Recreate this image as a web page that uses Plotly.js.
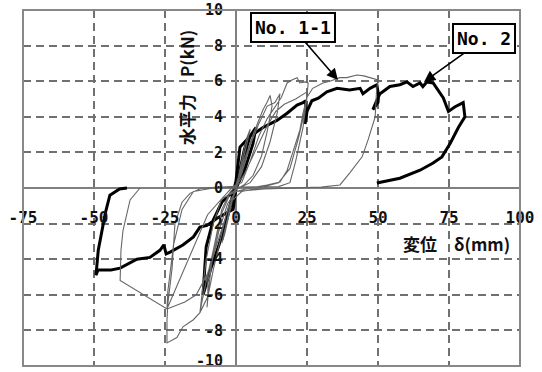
<!DOCTYPE html>
<html><head><meta charset="utf-8">
<script src="https://cdn.plot.ly/plotly-3.0.1.min.js"></script>
<style>html,body{margin:0;padding:0;background:#fff}#chart{width:542px;height:372px}</style>
</head><body><div id="chart"></div>
<script>
// No.1-1 (thin grey) hysteresis loops
const no11_x = [0,1,2,3,4,5,4,2,0,-1,-2,-3,-4,-5,-4,-2,0,
  3,6,8,9.5,10.9,12,12.7,11,9,6,3,0,-3,-6,-8,-9.9,-10.2,-9.5,-8,-5,-2,0,
  2,5,8,11,13.7,15.5,14.5,12,9,5,1,-2,-5,-8,-10,-12,-12.7,-12,-10.5,-8,-5,-1,
  2,5,8,11,14,16,18,19.7,21.5,22.5,24.3,25.4,25,23.6,22.5,20,18,15.5,10.9,5,0,-3,-6,-8,-9.9,-9.9,-12.7,-15,-18.7,-20.8,-24.3,-24.3,-24,-22.5,-21.5,-19,-16.2,-12,-6,0,
  3,7,11,14,17,21,24,25,24.6,22,19,15,8,2,-2,-6,-10,-14,-18,-24.3,-24,-22,-19,-15,-8,0,
  5,10,15,19,21,23.6,25,27,30.6,33,36.6,39,42.6,45,47.2,50,49.5,49,46.5,44.4,40,36.6,30,20,10,0,-5,-10,-14,-18,-21,-24.3,-40.8,-40.5,-39.8,-37.3,-33.8];
const no11_y = [0,0.8,1.6,2.3,2.9,3.3,2.6,1.2,0.2,-0.5,-1.3,-2.0,-2.6,-3.1,-2.4,-1.0,-0.1,
  1.6,3.0,3.8,4.4,4.8,5.2,4.6,3.2,1.8,0.7,0.2,-0.1,-1.2,-3.2,-4.6,-6.1,-6.7,-5.5,-3.5,-1.2,-0.2,0.1,
  0.8,2.4,3.6,4.6,4.8,5.3,4.2,2.6,1.2,0.3,0,-0.3,-1.4,-3.4,-4.9,-6.4,-7.0,-6.0,-4.0,-2.0,-0.6,0.1,
  0.3,1.5,2.9,3.9,4.6,5.1,5.9,6.07,6.2,5.9,5.96,5.9,5.1,4.2,3.26,1.96,1.0,0.34,0.17,0,-0.2,-0.9,-2.4,-3.8,-5.2,-6.1,-7.0,-7.4,-7.8,-8.4,-8.7,-7.4,-6.5,-4.5,-2.0,-0.8,-0.3,0,0.05,0.1,
  0.8,2.2,3.5,4.3,4.7,5.0,5.3,5.4,4.6,2.8,1.1,0.3,0,-0.2,-0.8,-2.8,-4.8,-6.0,-6.4,-6.8,-5.8,-3.2,-1.2,-0.2,0,0.05,
  0.05,0.05,0.08,0.3,1.5,3.4,5.1,5.6,5.9,6.0,6.2,6.2,6.35,6.3,6.2,6.07,5.5,4.0,2.7,1.75,0.84,0.17,0.05,0,-0.05,-0.2,-0.6,-1.5,-3.0,-4.5,-5.6,-6.8,-5.2,-3.5,-2.4,-0.67,0];
// No.2 (thick black)
const no2_x = [0,1.5,3,4.5,3.5,1.5,0,-2,-4,-5,-3.5,-1,0,2,4.9,7,6,3,0,-3,-6,-9,-11.6,-11,-10.5,-8,-5,-1,0,
  -1,-3.2,-6.7,-10.2,-12.7,-15,-18.7,-23.2,-24.6,-25.4,-26.8,-30.3,-34.9,-40.8,-44,-48.6,-49.3,-48.5,-47,-46,-44.4,-41,-38.4,
  null,
  -1,0,1.4,4.9,9.5,14.4,18,21.5,23.6,24.6,24.3,25,26.7,29,32,35.6,40,43.7,44.7,47.2,49.6,50.2,50,48.2,49.5,50.7,54.2,57.7,60.2,62.3,64.8,65.8,67.2,69.4,73,74.8,77,80,80.6,78.3,75.4,72.5,69.4,64.8,57.7,49.6];
const no2_y = [0,1.2,2.2,2.9,2.0,0.7,0,-0.9,-2.2,-2.9,-1.8,-0.3,0.1,1.3,2.9,3.4,2.5,1.0,0,-1.6,-3.2,-4.6,-6.0,-4.5,-3.3,-1.8,-0.8,-0.2,0,
  -1.2,-1.4,-1.7,-2.1,-2.2,-2.75,-3.2,-3.6,-3.7,-3.2,-3.5,-3.9,-4.0,-4.5,-4.6,-4.6,-4.9,-3.5,-2.2,-1.4,-0.4,-0.05,0,
  null,
  -0.3,0.4,2.3,2.9,3.4,3.8,4.2,4.66,4.8,4.9,3.6,4.3,4.9,5.05,5.4,5.6,5.5,5.6,5.3,5.6,5.8,5.2,4.8,4.4,4.9,5.3,5.7,5.8,5.96,5.7,5.9,5.7,5.96,5.9,5.06,4.3,4.55,4.8,4.0,3.4,2.5,1.75,1.4,1.0,0.55,0.28];
const xTicks = [-75,-50,-25,0,25,50,75,100];
const xTickText = ['-75','-50','-25','0','25','50','75','100'];
const yTicks = [-8,-6,-4,-2,0,2,4,6,8,10];
const yTickText = ['-8','-6','-4','-2','0','2','4','6','8','10'];
const yTicksLow = [-10];
const yTickTextLow = ['-10'];

const FONT = '"Noto Sans CJK JP", "Noto Sans", sans-serif';
const MONO = '"DejaVu Sans Mono", monospace';
const traces = [
  {x: no11_x, y: no11_y, yaxis: 'y2', mode: 'lines', line: {color: '#666', width: 1.1}, hoverinfo: 'skip'},
  {x: no2_x, y: no2_y, mode: 'lines', connectgaps: false, line: {color: '#000', width: 3}, hoverinfo: 'skip'}
];
const tickFont = {family: MONO, size: 15, color: '#111', weight: 'bold'};
const gridStyle = {showgrid: true, gridcolor: '#707070', gridwidth: 2, griddash: '8px,5px',
  zeroline: true, zerolinecolor: '#808080', zerolinewidth: 1.5, showline: false, ticks: '',
  ticklabeloverflow: 'allow', tickfont: tickFont, fixedrange: true};
const layout = {
  width: 542, height: 372,
  margin: {l: 23, r: 22, t: 10, b: 6, pad: 0},
  paper_bgcolor: '#fff', plot_bgcolor: '#fff',
  showlegend: false,
  xaxis: Object.assign({}, gridStyle, {range: [-75, 100], tickvals: xTicks, ticktext: xTickText,
    anchor: 'free', position: 0.5, ticklabelstandoff: 18,
    tickfont: {family: MONO, size: 16, color: '#111', weight: 'bold'}}),
  yaxis: Object.assign({}, gridStyle, {range: [-10, 10], tickvals: yTicks, ticktext: yTickText,
    anchor: 'free', position: 75/175, ticklabelstandoff: 13}),
  yaxis2: {range: [-10, 10], overlaying: 'y', anchor: 'free', position: 75/175, side: 'left',
    showgrid: false, zeroline: false, showline: false, ticks: '', tickvals: yTicksLow, ticktext: yTickTextLow,
    ticklabelstandoff: 13, ticklabelshift: -5, ticklabeloverflow: 'allow', tickfont: tickFont, fixedrange: true},
  shapes: [{type: 'rect', xref: 'paper', yref: 'paper', x0: 0, x1: 1, y0: 0, y1: 1,
    line: {color: '#888', width: 2}, layer: 'above'}],
  annotations: [
    {text: '水平力　P(kN)', xref: 'paper', yref: 'paper', x: (186-23)/497, y: (366-88)/356,
      xanchor: 'center', yanchor: 'middle',
      textangle: -90, showarrow: false, font: {family: FONT, size: 17, color: '#111', weight: 'bold'}},
    {text: '変位　δ(mm)', xref: 'paper', yref: 'paper', x: (456-23)/497, y: (366-244)/356,
      xanchor: 'center', yanchor: 'middle',
      showarrow: false, font: {family: FONT, size: 17, color: '#111', weight: 'bold'}},
    {text: 'No. 1-1', x: 35.9, y: 6.07, ax: -45, ay: -52, showarrow: true, arrowhead: 2, arrowsize: 1.4,
      arrowwidth: 1.6, arrowcolor: '#000', bordercolor: '#000', borderwidth: 2, borderpad: 3, bgcolor: '#fff',
      font: {family: MONO, size: 18, color: '#000', weight: 'bold'}},
    {text: 'No. 2', x: 66.2, y: 5.96, ax: 60, ay: -43, showarrow: true, arrowhead: 2, arrowsize: 1.4,
      arrowwidth: 1.6, arrowcolor: '#000', bordercolor: '#000', borderwidth: 2, borderpad: 3, bgcolor: '#fff',
      font: {family: MONO, size: 18, color: '#000', weight: 'bold'}}
  ]
};
Plotly.newPlot('chart', traces, layout, {staticPlot: true, displayModeBar: false});
</script></body></html>
